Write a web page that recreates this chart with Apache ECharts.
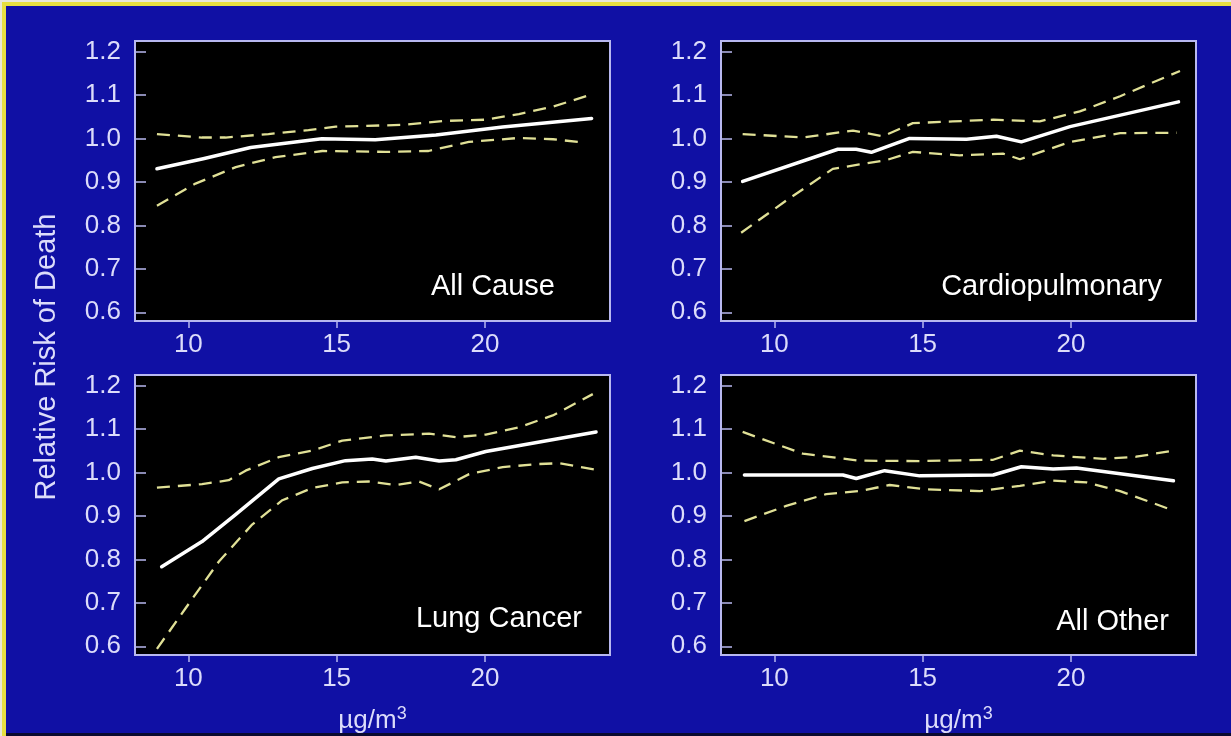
<!DOCTYPE html>
<html>
<head>
<meta charset="utf-8">
<script src="https://cdn.jsdelivr.net/npm/echarts@6/dist/echarts.min.js"></script>
<style>
html,body{margin:0;padding:0;background:#1010a4;}
#c{width:1231px;height:736px;}
</style>
</head>
<body>
<div id="c"></div>
<script>
// ---- data ----
const panelTitles = ['All Cause', 'Cardiopulmonary', 'Lung Cancer', 'All Other'];
const xTickValues = [10, 15, 20];
const yTickValues = [0.6, 0.7, 0.8, 0.9, 1.0, 1.1, 1.2];
const yAxisTitle = 'Relative Risk of Death';

const allCauseRR = [[8.94,0.930],[10.5,0.953],[12.1,0.979],[14.5,0.999],[16.3,0.997],[18.35,1.008],[20.6,1.026],[23.6,1.046]];
const allCauseHi = [[8.94,1.010],[10.46,1.002],[11.25,1.002],[12.7,1.010],[14.05,1.019],[14.97,1.027],[17.2,1.031],[18.57,1.040],[20.03,1.043],[21.15,1.056],[22.3,1.073],[23.64,1.102]];
const allCauseLo = [[8.94,0.845],[10.24,0.896],[11.6,0.934],[12.94,0.957],[14.52,0.971],[16.65,0.969],[18.1,0.971],[19.46,0.992],[21.15,1.001],[22.3,0.998],[23.4,0.990]];

const cardioRR = [[8.93,0.901],[12.14,0.975],[12.76,0.975],[13.27,0.968],[14.56,1.000],[16.48,0.998],[17.49,1.005],[18.33,0.992],[19.97,1.027],[23.63,1.084]];
const cardioHi = [[8.93,1.010],[10.96,1.002],[12.65,1.018],[13.66,1.005],[14.67,1.035],[16.02,1.039],[17.38,1.043],[18.95,1.039],[20.3,1.062],[21.66,1.097],[23.68,1.155]];
const cardioLo = [[8.88,0.783],[10.4,0.857],[11.97,0.930],[12.87,0.940],[13.77,0.950],[14.67,0.969],[16.25,0.961],[17.71,0.965],[18.28,0.952],[19.97,0.992],[21.66,1.012],[23.57,1.013]];

const lungRR = [[9.1,0.783],[10.46,0.841],[11.59,0.903],[13.05,0.985],[14.18,1.009],[15.3,1.027],[16.2,1.031],[16.66,1.026],[17.67,1.035],[18.46,1.026],[19.02,1.029],[20.03,1.048],[23.75,1.093]];
const lungHi = [[8.94,0.965],[10.46,0.973],[11.36,0.982],[11.93,1.004],[13.05,1.035],[14.18,1.050],[15.19,1.073],[16.66,1.085],[18.12,1.089],[19.02,1.081],[20.03,1.087],[21.16,1.104],[22.29,1.131],[23.64,1.180]];
const lungLo = [[8.94,0.594],[9.9,0.687],[11.03,0.795],[12.15,0.880],[13.17,0.936],[14.18,0.964],[15.19,0.977],[16.1,0.979],[17.0,0.971],[17.78,0.979],[18.46,0.961],[19.47,0.996],[20.6,1.012],[21.72,1.019],[22.51,1.021],[23.75,1.006]];

const otherRR = [[8.99,0.994],[12.31,0.994],[12.76,0.986],[13.72,1.004],[14.9,0.992],[17.38,0.994],[18.33,1.013],[19.4,1.008],[20.19,1.010],[23.46,0.981]];
const otherHi = [[8.93,1.093],[10.96,1.043],[12.87,1.027],[14.9,1.026],[17.38,1.029],[18.28,1.050],[19.4,1.039],[21.1,1.031],[22.2,1.036],[23.46,1.050]];
const otherLo = [[8.99,0.888],[10.4,0.923],[11.75,0.950],[12.87,0.957],[13.89,0.971],[15.13,0.961],[16.93,0.957],[18.28,0.969],[19.4,0.981],[20.53,0.977],[21.66,0.957],[23.35,0.915]];

// ---- layout/styling ----
const panels = [
  {rr: allCauseRR, hi: allCauseHi, lo: allCauseLo},
  {rr: cardioRR, hi: cardioHi, lo: cardioLo},
  {rr: lungRR, hi: lungHi, lo: lungLo},
  {rr: otherRR, hi: otherHi, lo: otherLo}
];
const gridPos = [
  {left: 135, top: 41, width: 475, height: 280},
  {left: 721, top: 41, width: 475, height: 280},
  {left: 135, top: 375, width: 475, height: 280},
  {left: 721, top: 375, width: 475, height: 280}
];
const labelPos = [
  {x: 555, y: 287},
  {x: 1162, y: 287},
  {x: 582, y: 619},
  {x: 1169, y: 622}
];
const FONT = 'Liberation Sans, Arial, Helvetica, sans-serif';
const TXT = '#dcdcfa';
const FRAME = '#b8b8f0';

const grids = [], xAxes = [], yAxes = [], series = [], graphics = [];

gridPos.forEach((g, i) => {
  grids.push(Object.assign({
    show: true, backgroundColor: '#000000', borderColor: FRAME, borderWidth: 2, containLabel: false
  }, g));
  const bottomRow = i >= 2;
  xAxes.push({
    type: 'value', gridIndex: i, min: 8.2, max: 24.22,
    axisLine: {show: false},
    splitLine: {show: false},
    axisTick: {show: true, inside: false, length: 7, lineStyle: {color: FRAME, width: 1.5}, customValues: xTickValues},
    axisLabel: {color: TXT, fontSize: 26, fontFamily: FONT, margin: 11, customValues: xTickValues,
      formatter: v => String(Math.round(v))},
    name: bottomRow ? '{a|µg/m}{s|3}' : '',
    nameLocation: 'middle', nameGap: 50,
    nameTextStyle: {rich: {
      a: {color: TXT, fontSize: 26, fontFamily: FONT},
      s: {color: TXT, fontSize: 18, fontFamily: FONT, verticalAlign: 'top', padding: [0, 0, 14, 0]}
    }}
  });
  yAxes.push({
    type: 'value', gridIndex: i, min: 0.58, max: 1.224,
    axisLine: {show: false},
    splitLine: {show: false},
    axisTick: {show: true, inside: true, length: 11, lineStyle: {color: FRAME, width: 1.5}, customValues: yTickValues},
    axisLabel: {color: TXT, fontSize: 26, fontFamily: FONT, margin: 14, customValues: yTickValues,
      formatter: v => v.toFixed(1)}
  });
  const p = panels[i];
  ['hi', 'lo'].forEach(k => {
    series.push({
      type: 'line', xAxisIndex: i, yAxisIndex: i, data: p[k], symbol: 'none', z: 2,
      lineStyle: {color: '#e0e096', width: 2.3, type: [13, 8]}
    });
  });
  series.push({
    type: 'line', xAxisIndex: i, yAxisIndex: i, data: p.rr, symbol: 'none', z: 3,
    lineStyle: {color: '#ffffff', width: 3.5, cap: 'round', join: 'round'}
  });
  graphics.push({
    type: 'text', x: labelPos[i].x, y: labelPos[i].y, z: 10,
    style: {text: panelTitles[i], fill: '#ffffff', font: '29px ' + FONT, textAlign: 'right', textVerticalAlign: 'middle'}
  });
});

// frame lines
graphics.push({type: 'rect', shape: {x: 0, y: 0, width: 1231, height: 2}, style: {fill: '#e8e8d8'}, z: 0});
graphics.push({type: 'rect', shape: {x: 0, y: 0, width: 2, height: 736}, style: {fill: '#e8e8d8'}, z: 0});
graphics.push({type: 'rect', shape: {x: 2, y: 2, width: 1229, height: 4}, style: {fill: '#e6e040'}, z: 0});
graphics.push({type: 'rect', shape: {x: 2, y: 2, width: 4, height: 734}, style: {fill: '#e6e040'}, z: 0});
graphics.push({type: 'rect', shape: {x: 6, y: 733, width: 1225, height: 3}, style: {fill: '#0a0a30'}, z: 0});

// y axis title
graphics.push({
  type: 'text', x: 47, y: 357, rotation: Math.PI / 2, z: 10,
  style: {text: yAxisTitle, fill: TXT, font: '29px ' + FONT, textAlign: 'center', textVerticalAlign: 'middle'}
});

const chart = echarts.init(document.getElementById('c'));
chart.setOption({
  backgroundColor: '#1010a4',
  animation: false,
  grid: grids,
  xAxis: xAxes,
  yAxis: yAxes,
  series: series,
  graphic: graphics
});
</script>
</body>
</html>
